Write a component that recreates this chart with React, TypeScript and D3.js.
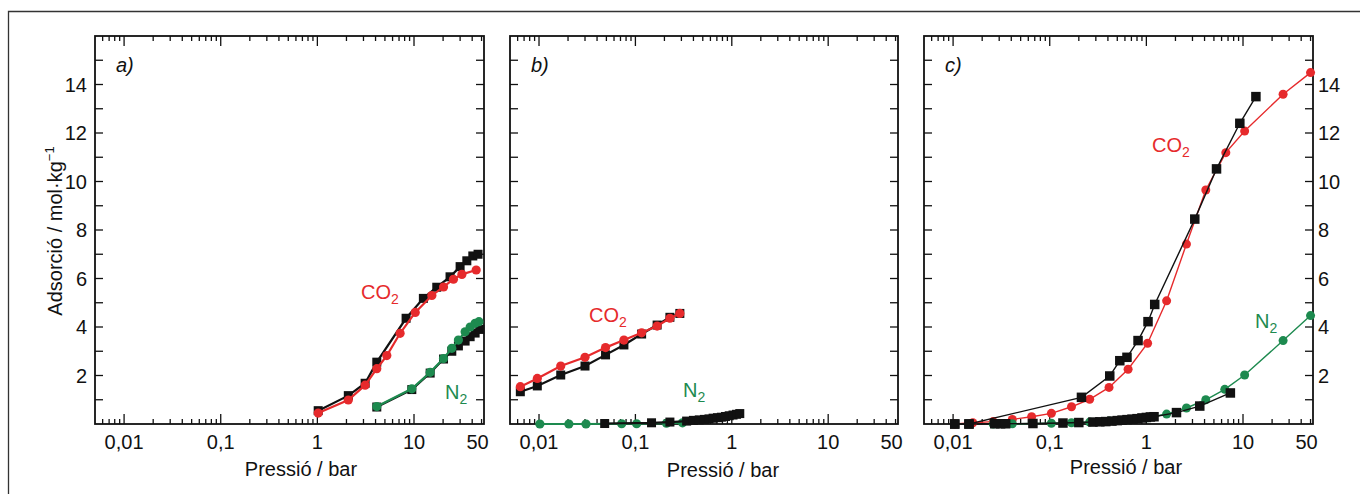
import React from "react";
import * as d3 from "d3";

type Pt = [number, number];

// ---------- data (pressure bar, adsorption mol/kg) ----------
const xTickValues = [0.01, 0.1, 1, 10, 50];
const xTickLabels = ["0,01", "0,1", "1", "10", "50"];
const yTickValues = [2, 4, 6, 8, 10, 12, 14];
const panelLetters = ["a)", "b)", "c)"];

// Panel a
const aCO2Squares: Pt[] = [[1.02, 0.55], [2.09, 1.17], [3.12, 1.68], [4.12, 2.55], [8.28, 4.36], [12.5, 5.18], [17.2, 5.64], [23.6, 6.07], [30, 6.49], [35.2, 6.73], [40.6, 6.93], [46, 7.0]];
const aCO2Circles: Pt[] = [[1.02, 0.45], [2.09, 0.99], [3.12, 1.6], [4.12, 2.28], [5.23, 2.82], [7.18, 3.74], [10.3, 4.6], [15.3, 5.3], [20.2, 5.65], [25.6, 5.97], [31.3, 6.17], [44, 6.35]];
const aN2Squares: Pt[] = [[4.12, 0.7], [9.49, 1.42], [14.7, 2.1], [20.2, 2.68], [24.6, 3.0], [28.8, 3.22], [33.8, 3.42], [38.1, 3.6], [42.9, 3.75], [48, 3.9]];
const aN2Circles: Pt[] = [[4.12, 0.72], [9.49, 1.45], [14.7, 2.13], [20.2, 2.7], [24.6, 3.12], [28.8, 3.46], [33.8, 3.8], [38.1, 4.0], [42.9, 4.15], [47, 4.22]];

// Panel b
const bCO2Squares: Pt[] = [[0.0064, 1.33], [0.0096, 1.57], [0.0168, 2.02], [0.03, 2.39], [0.049, 2.85], [0.076, 3.26], [0.116, 3.71], [0.168, 4.08], [0.228, 4.4], [0.289, 4.56]];
const bCO2Circles: Pt[] = [[0.0064, 1.54], [0.0096, 1.88], [0.0168, 2.39], [0.03, 2.75], [0.049, 3.15], [0.076, 3.46], [0.116, 3.76], [0.168, 4.04], [0.228, 4.36], [0.289, 4.56]];
const bN2Squares: Pt[] = [[0.048, 0.02], [0.147, 0.05], [0.228, 0.08], [0.34, 0.12], [0.4, 0.15], [0.46, 0.17], [0.52, 0.19], [0.58, 0.21], [0.64, 0.24], [0.71, 0.26], [0.78, 0.28], [0.86, 0.31], [0.94, 0.34], [1.03, 0.37], [1.12, 0.4], [1.21, 0.43]];
const bN2Circles: Pt[] = [[0.0102, 0.0], [0.0204, 0.0], [0.0307, 0.0], [0.072, 0.01], [0.103, 0.01], [0.21, 0.03], [0.308, 0.05]];

// Panel c
const cCO2Squares: Pt[] = [[0.0104, 0.0], [0.0146, 0.0], [0.213, 1.1], [0.418, 1.98], [0.531, 2.61], [0.63, 2.75], [0.82, 3.44], [1.04, 4.22], [1.22, 4.93], [3.17, 8.45], [5.32, 10.52], [9.27, 12.4], [13.6, 13.5]];
const cCO2Circles: Pt[] = [[0.0104, 0.0], [0.016, 0.05], [0.026, 0.1], [0.041, 0.19], [0.065, 0.3], [0.104, 0.44], [0.168, 0.71], [0.259, 1.02], [0.411, 1.51], [0.647, 2.26], [1.03, 3.33], [1.62, 5.08], [2.6, 7.42], [4.12, 9.65], [6.64, 11.19], [10.4, 12.08], [26, 13.6], [50, 14.49]];
const cN2Squares: Pt[] = [[0.0104, 0.0], [0.0146, 0.0], [0.027, 0.01], [0.031, 0.01], [0.035, 0.01], [0.067, 0.02], [0.137, 0.04], [0.2, 0.06], [0.28, 0.08], [0.33, 0.09], [0.38, 0.1], [0.44, 0.12], [0.5, 0.14], [0.56, 0.16], [0.63, 0.18], [0.71, 0.2], [0.8, 0.22], [0.9, 0.25], [1.0, 0.27], [1.1, 0.29], [1.2, 0.3], [2.05, 0.47], [3.57, 0.74], [7.4, 1.28]];
const cN2Circles: Pt[] = [[0.026, 0.0], [0.041, 0.01], [0.104, 0.03], [0.168, 0.05], [0.259, 0.08], [0.411, 0.12], [0.647, 0.18], [1.03, 0.26], [1.62, 0.41], [2.6, 0.66], [4.12, 1.0], [6.48, 1.43], [10.4, 2.02], [26, 3.44], [50, 4.47]];

// ---------- styling ----------
const RED = "#e62a2c";
const GREEN = "#1d8a4f";
const BLACK = "#111";
const FONT = "'Liberation Sans', Arial, Helvetica, sans-serif";
const X_DOMAIN: [number, number] = [0.005, 53];
const Y_DOMAIN: [number, number] = [0, 16];
const TOP = 36;
const BOTTOM = 424;

interface Series { data: Pt[]; color: string; shape: "sq" | "ci"; }
interface Panel {
  x0: number; x1: number;
  series: Series[];
  lw: number; sq: number; r: number;
  yLabels: "left" | "right" | "none";
  co2: [number, number]; n2: [number, number];
  titleX: number; titleY: number;
}

const panels: Panel[] = [
  {
    x0: 95, x1: 484, lw: 2.2, sq: 9, r: 4.6, yLabels: "left",
    series: [
      { data: aCO2Squares, color: BLACK, shape: "sq" },
      { data: aCO2Circles, color: RED, shape: "ci" },
      { data: aN2Squares, color: BLACK, shape: "sq" },
      { data: aN2Circles, color: GREEN, shape: "ci" },
    ],
    co2: [361, 299], n2: [445, 399], titleX: 301, titleY: 476,
  },
  {
    x0: 510, x1: 898, lw: 2.2, sq: 9, r: 4.6, yLabels: "none",
    series: [
      { data: bCO2Squares, color: BLACK, shape: "sq" },
      { data: bCO2Circles, color: RED, shape: "ci" },
      { data: bN2Circles, color: GREEN, shape: "ci" },
      { data: bN2Squares, color: BLACK, shape: "sq" },
    ],
    co2: [589, 322], n2: [683, 397], titleX: 723, titleY: 477,
  },
  {
    x0: 924, x1: 1313, lw: 1.4, sq: 9.5, r: 4.5, yLabels: "right",
    series: [
      { data: cCO2Circles, color: RED, shape: "ci" },
      { data: cN2Circles, color: GREEN, shape: "ci" },
      { data: cCO2Squares, color: BLACK, shape: "sq" },
      { data: cN2Squares, color: BLACK, shape: "sq" },
    ],
    co2: [1152, 152], n2: [1255, 328], titleX: 1126, titleY: 474,
  },
];

function minorXTicks(): number[] {
  const out: number[] = [];
  for (let e = -3; e <= 1; e++) {
    for (let m = 2; m <= 9; m++) {
      const v = m * Math.pow(10, e);
      if (v > X_DOMAIN[0] && v < X_DOMAIN[1]) out.push(v);
    }
  }
  return out;
}
const majorXTicks = [0.01, 0.1, 1, 10];
const yTicksAll = d3.range(1, 16);

function PanelView({ p, idx }: { p: Panel; idx: number }) {
  const x = d3.scaleLog().domain(X_DOMAIN).range([p.x0, p.x1]);
  const y = d3.scaleLinear().domain(Y_DOMAIN).range([BOTTOM, TOP]);
  const line = d3.line<Pt>().x((d) => x(d[0])).y((d) => y(d[1]));
  const minors = minorXTicks();
  const clipId = `clip${idx}`;
  return (
    <g>
      <defs>
        <clipPath id={clipId}>
          <rect x={p.x0} y={TOP - 6} width={p.x1 - p.x0 + 6} height={BOTTOM - TOP + 12} />
        </clipPath>
      </defs>
      <g stroke={BLACK} strokeWidth={1.3}>
        {majorXTicks.map((v) => (
          <g key={"M" + v}>
            <line x1={x(v)} x2={x(v)} y1={BOTTOM} y2={BOTTOM - 10} />
            <line x1={x(v)} x2={x(v)} y1={TOP} y2={TOP + 10} />
          </g>
        ))}
        {minors.map((v) => (
          <g key={"m" + v}>
            <line x1={x(v)} x2={x(v)} y1={BOTTOM} y2={BOTTOM - 5} />
            <line x1={x(v)} x2={x(v)} y1={TOP} y2={TOP + 5} />
          </g>
        ))}
        {yTicksAll.map((v) => (
          <g key={"y" + v}>
            <line x1={p.x0} x2={p.x0 + 8} y1={y(v)} y2={y(v)} />
            <line x1={p.x1} x2={p.x1 - 8} y1={y(v)} y2={y(v)} />
          </g>
        ))}
      </g>
      <rect x={p.x0} y={TOP} width={p.x1 - p.x0} height={BOTTOM - TOP} fill="none" stroke={BLACK} strokeWidth={1.8} />
      <g clipPath={`url(#${clipId})`}>
        {p.series.map((s, i) => (
          <g key={i}>
            <path d={line(s.data) || ""} fill="none" stroke={s.color} strokeWidth={p.lw} />
            {s.data.map((d, j) =>
              s.shape === "sq" ? (
                <rect key={j} x={x(d[0]) - p.sq / 2} y={y(d[1]) - p.sq / 2} width={p.sq} height={p.sq} fill={s.color} />
              ) : (
                <circle key={j} cx={x(d[0])} cy={y(d[1])} r={p.r} fill={s.color} />
              )
            )}
          </g>
        ))}
      </g>
      {xTickValues.map((v, i) => (
        <text key={"xl" + v} x={x(v) - (v === 50 ? 4 : 0)} y={449} textAnchor="middle" fontSize={20} fontFamily={FONT} fill={BLACK}>
          {xTickLabels[i]}
        </text>
      ))}
      {p.yLabels !== "none" &&
        yTickValues.map((v) => (
          <text
            key={"yl" + v}
            x={p.yLabels === "left" ? p.x0 - 8 : p.x1 + 5}
            y={y(v) + 7}
            textAnchor={p.yLabels === "left" ? "end" : "start"}
            fontSize={20}
            fontFamily={FONT}
            fill={BLACK}
          >
            {v}
          </text>
        ))}
      <text x={p.titleX} y={p.titleY} textAnchor="middle" fontSize={20} fontFamily={FONT} fill={BLACK}>
        Pressió / bar
      </text>
      <text x={p.x0 + 21} y={72} fontSize={20} fontStyle="italic" fontFamily={FONT} fill={BLACK}>
        {panelLetters[idx]}
      </text>
      <text x={p.co2[0]} y={p.co2[1]} fontSize={20} fontFamily={FONT} fill={RED}>
        CO<tspan fontSize={14} dy={5}>2</tspan>
      </text>
      <text x={p.n2[0]} y={p.n2[1]} fontSize={20} fontFamily={FONT} fill={GREEN}>
        N<tspan fontSize={14} dy={5}>2</tspan>
      </text>
    </g>
  );
}

export default function App() {
  return (
    <svg width={1360} height={494} style={{ position: "absolute", left: 0, top: 0, background: "#fff" }}>
      <rect x={0} y={0} width={1360} height={494} fill="#fff" />
      <path d="M8.5,494 L8.5,11.5 L1360,11.5" fill="none" stroke="#333" strokeWidth={1.3} />
      {panels.map((p, i) => (
        <PanelView key={i} p={p} idx={i} />
      ))}
      <text
        transform="translate(62,231) rotate(-90)"
        textAnchor="middle"
        fontSize={20}
        fontFamily={FONT}
        fill={BLACK}
      >
        Adsorció / mol·kg<tspan fontSize={13} dy={-8}>−1</tspan>
      </text>
    </svg>
  );
}
